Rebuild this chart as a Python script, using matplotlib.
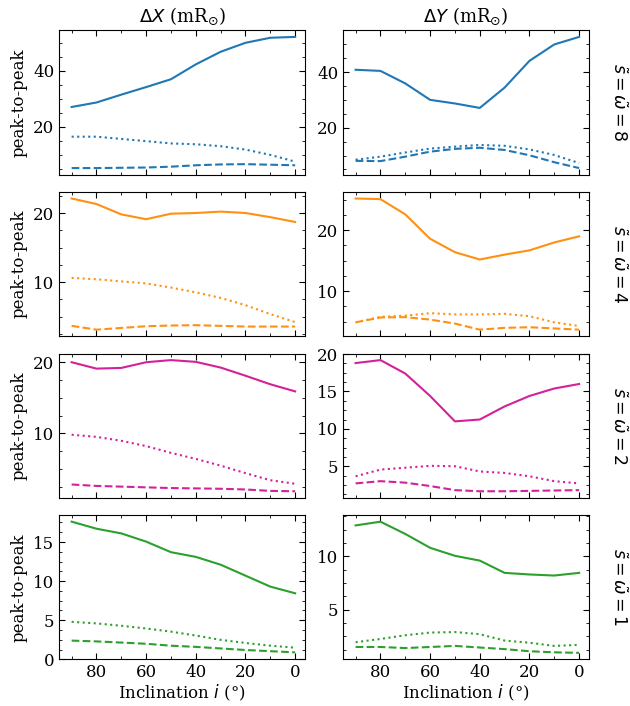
import matplotlib
matplotlib.use("Agg")
import matplotlib.pyplot as plt
from matplotlib.ticker import AutoMinorLocator

plt.rcParams['font.family'] = 'DejaVu Serif'
plt.rcParams['mathtext.fontset'] = 'dejavusans'

inclination = [90, 80, 70, 60, 50, 40, 30, 20, 10, 0]

# s = omega = 8
dx8_solid = [27.0, 28.6, 31.4, 34.1, 36.9, 42.2, 46.7, 49.9, 51.7, 52.0]
dx8_dot = [16.4, 16.4, 15.6, 14.8, 14.0, 13.7, 13.0, 11.8, 9.9, 7.5]
dx8_dash = [5.2, 5.2, 5.3, 5.4, 5.7, 6.2, 6.5, 6.6, 6.4, 6.2]
dy8_solid = [40.8, 40.4, 35.9, 30.0, 28.7, 27.1, 34.4, 44.0, 49.9, 52.6]
dy8_dot = [8.5, 9.6, 11.1, 12.5, 13.2, 13.8, 13.5, 12.2, 10.2, 7.3]
dy8_dash = [8.1, 8.0, 9.6, 11.4, 12.4, 12.8, 12.0, 10.1, 7.6, 5.5]

# s = omega = 4
dx4_solid = [22.1, 21.3, 19.8, 19.1, 19.9, 20.0, 20.2, 20.0, 19.4, 18.7]
dx4_dot = [10.6, 10.4, 10.1, 9.8, 9.2, 8.5, 7.7, 6.65, 5.35, 4.2]
dx4_dash = [3.65, 3.1, 3.35, 3.6, 3.7, 3.75, 3.65, 3.55, 3.55, 3.55]
dy4_solid = [25.2, 25.1, 22.6, 18.6, 16.4, 15.2, 16.0, 16.7, 18.0, 19.0]
dy4_dot = [4.9, 5.8, 6.0, 6.4, 6.2, 6.2, 6.3, 5.9, 4.9, 4.3]
dy4_dash = [4.9, 5.7, 5.75, 5.35, 4.7, 3.7, 4.0, 4.1, 3.9, 3.7]

# s = omega = 2
dx2_solid = [20.0, 19.1, 19.2, 20.0, 20.3, 20.05, 19.25, 18.1, 16.9, 15.9]
dx2_dot = [9.8, 9.5, 8.95, 8.2, 7.25, 6.4, 5.45, 4.4, 3.4, 2.9]
dx2_dash = [2.8, 2.6, 2.5, 2.4, 2.3, 2.25, 2.2, 2.1, 1.9, 1.85]
dy2_solid = [18.8, 19.2, 17.4, 14.4, 11.0, 11.25, 13.0, 14.4, 15.4, 16.0]
dy2_dot = [3.65, 4.55, 4.8, 5.05, 5.0, 4.3, 4.1, 3.65, 3.0, 2.7]
dy2_dash = [2.7, 3.0, 2.8, 2.35, 1.8, 1.65, 1.65, 1.7, 1.75, 1.8]

# s = omega = 1
dx1_solid = [17.6, 16.7, 16.1, 15.05, 13.7, 13.1, 12.1, 10.7, 9.3, 8.45]
dx1_dot = [4.8, 4.6, 4.3, 3.95, 3.55, 3.05, 2.5, 2.1, 1.75, 1.5]
dx1_dash = [2.4, 2.3, 2.15, 2.0, 1.75, 1.6, 1.4, 1.2, 1.05, 0.9]
dy1_solid = [12.9, 13.25, 12.1, 10.8, 10.05, 9.6, 8.45, 8.3, 8.2, 8.45]
dy1_dot = [1.95, 2.25, 2.6, 2.85, 2.9, 2.7, 2.1, 1.9, 1.6, 1.7]
dy1_dash = [1.5, 1.5, 1.4, 1.5, 1.6, 1.45, 1.3, 1.1, 1.0, 0.95]

row_values = [8, 4, 2, 1]
row_colors = ['#1f77b4', '#ff9012', '#d4219b', '#2ca02c']
col_titles = [r'$\Delta X$ (mR$_{\odot}$)', r'$\Delta Y$ (mR$_{\odot}$)']

data = [
    [(dx8_solid, dx8_dot, dx8_dash), (dy8_solid, dy8_dot, dy8_dash)],
    [(dx4_solid, dx4_dot, dx4_dash), (dy4_solid, dy4_dot, dy4_dash)],
    [(dx2_solid, dx2_dot, dx2_dash), (dy2_solid, dy2_dot, dy2_dash)],
    [(dx1_solid, dx1_dot, dx1_dash), (dy1_solid, dy1_dot, dy1_dash)],
]

fig, axes = plt.subplots(4, 2, figsize=(6.3, 7.06), dpi=100, sharex=True)
fig.subplots_adjust(left=0.094, right=0.935, top=0.957, bottom=0.066,
                    wspace=0.155, hspace=0.12)

for r in range(4):
    for c in range(2):
        ax = axes[r, c]
        solid, dot, dash = data[r][c]
        col = row_colors[r]
        ax.plot(inclination, solid, '-', color=col, lw=1.5)
        ax.plot(inclination, dot, ':', color=col, lw=1.5)
        ax.plot(inclination, dash, '--', color=col, lw=1.5)
        ax.tick_params(which='both', direction='in', top=True, right=True,
                       labelsize=12)
        ax.tick_params(which='major', length=4)
        ax.tick_params(which='minor', length=2)
        ax.xaxis.set_minor_locator(AutoMinorLocator(2))
        ax.yaxis.set_minor_locator(AutoMinorLocator(4))
        if c == 0:
            ax.set_ylabel('peak-to-peak', fontsize=12)
        if r == 0:
            ax.set_title(col_titles[c], fontsize=13)
        if r == 3:
            ax.set_xlabel(r'Inclination $i$ (°)', fontsize=12, labelpad=1)
        if c == 1:
            ax.text(1.08, 0.5, r'$\tilde{s}=\tilde{\omega}=%d$' % row_values[r],
                    transform=ax.transAxes, rotation=-90, va='center',
                    ha='left', fontsize=12.5)

axes[3, 0].set_ylim(bottom=0)
axes[0, 0].set_xlim(95, -4)
axes[3, 0].set_xticks([80, 60, 40, 20, 0])

fig.savefig('out.png', dpi=100)
